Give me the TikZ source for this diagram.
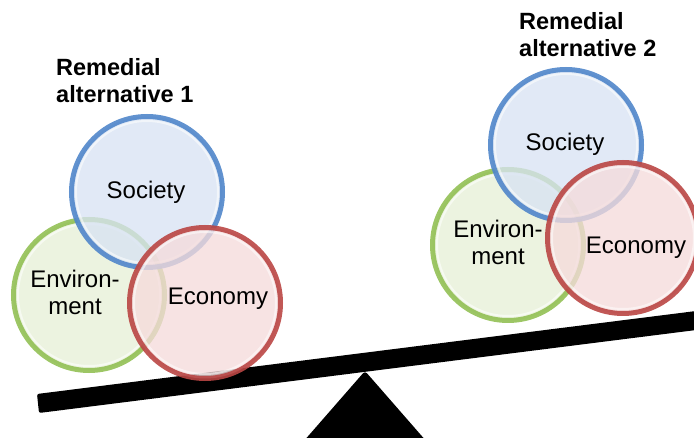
\documentclass[tikz,border=0pt]{standalone}
\usepackage{fontspec}
\setmainfont{Liberation Sans}
\usetikzlibrary{positioning,calc}

\definecolor{socline}{RGB}{80,134,202}
\definecolor{socfill}{RGB}{216,227,243}
\definecolor{envline}{RGB}{146,192,84}
\definecolor{envfill}{RGB}{231,240,215}
\definecolor{ecoline}{RGB}{186,70,68}
\definecolor{ecofill}{RGB}{245,219,219}

\tikzset{%
  ball/.style={circle, minimum size=151pt, line width=5pt,
    fill opacity=.78, draw opacity=.9},%
  gloss/.style={white, opacity=.55, line width=2pt},%
  lbl/.style={align=center, inner sep=0pt,
    font=\fontsize{24}{27}\selectfont},%
  ttl/.style={align=left, inner sep=0pt, anchor=north west,
    font=\fontsize{23.5}{27}\selectfont\bfseries}%
}

\begin{document}
\begin{tikzpicture}[x=1pt, y=-1pt]
          \useasboundingbox (0, 0) rectangle (694, 438);%
          % fulcrum and beam
          \fill [rounded corners=3pt] (365, 371) -- (427, 442) -- (303, 442) -- cycle;%
          \fill [rounded corners=2pt] (37, 394) -- (39, 413) -- (720, 327) -- (720, 308) -- cycle;%
          % left pan
          \node [ball, draw=envline, fill=envfill] (envL) at (89, 295) {};%
          \draw [gloss] (envL.center) circle (71pt);%
          \node [ball, draw=socline, fill=socfill] (socL) at (147, 192) {};%
          \draw [gloss] (socL.center) circle (71pt);%
          \node [ball, draw=ecoline, fill=ecofill] (ecoL) at (205, 303) {};%
          \draw [gloss] (ecoL.center) circle (71pt);%
          \node [lbl] (socTxtL) at (146, 192) {Society};%
          \node [lbl] (envTxtL) at (75, 292) {Environ-\\ment};%
          \node [lbl] (ecoTxtL) at (218, 299) {Economy};%
          \node [ttl] (altL) at (56, 58) {Remedial\\alternative 1};%
          % right pan
          \node [ball, draw=envline, fill=envfill] (envR) at (508, 245) {};%
          \draw [gloss] (envR.center) circle (71pt);%
          \node [ball, draw=socline, fill=socfill] (socR) at (566, 145) {};%
          \draw [gloss] (socR.center) circle (71pt);%
          \node [ball, draw=ecoline, fill=ecofill] (ecoR) at (623, 238) {};%
          \draw [gloss] (ecoR.center) circle (71pt);%
          \node [lbl] (socTxtR) at (565, 144) {Society};%
          \node [lbl] (envTxtR) at (498, 242) {Environ-\\ment};%
          \node [lbl] (ecoTxtR) at (636, 248) {Economy};%
          \node [ttl] (altR) at (519, 12) {Remedial\\alternative 2};%
        \end{tikzpicture}
\end{document}
